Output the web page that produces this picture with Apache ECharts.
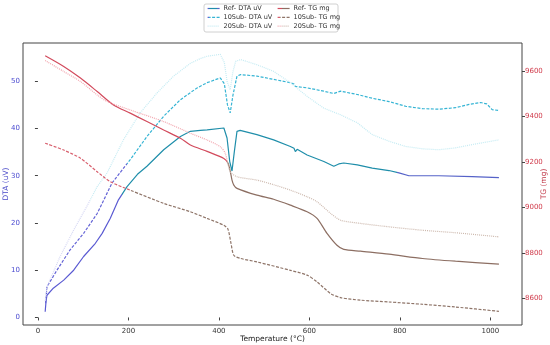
<!DOCTYPE html>
<html><head><meta charset="utf-8">
<script src="https://cdn.jsdelivr.net/npm/echarts@6/dist/echarts.min.js"></script>
<style>html,body{margin:0;padding:0;background:#fff}#c{width:550px;height:345px}</style>
</head><body><div id="c"></div>
<script>
var xTicks = [0, 200, 400, 600, 800, 1000];
var dtaTicks = [0, 10, 20, 30, 40, 50];
var tgTicks = [8600, 8800, 9000, 9200, 9400, 9600];

var refDtaT = [16, 18, 20, 34, 57, 79, 101, 127, 142, 160, 178, 197, 220, 241, 278, 315, 337, 359, 374, 411, 418, 424, 429, 434, 440, 447, 484, 521, 558, 566, 569, 573, 595, 632, 654, 665, 676, 706, 739, 776, 798, 820, 886, 960, 1019];
var refDtaV = [1.2, 3.5, 4.7, 6.2, 7.9, 10, 12.9, 15.7, 17.8, 21, 24.9, 27.7, 30.3, 32, 35.5, 38.3, 39.4, 39.6, 39.7, 40.1, 38, 33, 31, 35, 39.4, 39.6, 38.7, 37.6, 36.2, 35.8, 35.1, 35.6, 34.4, 33, 32, 32.5, 32.7, 32.3, 31.6, 31.1, 30.6, 30, 30, 29.8, 29.6];

var sub10DtaT = [17, 20, 42, 71, 101, 131, 164, 204, 241, 278, 315, 352, 374, 403, 412, 419, 425, 431, 440, 448, 484, 521, 558, 566, 569, 573, 595, 632, 654, 669, 706, 739, 776, 813, 850, 886, 923, 953, 979, 992, 1004, 1019];
var sub10DtaV = [3.0, 6.5, 10, 14.3, 17.8, 22, 28.5, 33.4, 38.3, 42.6, 46.1, 48.6, 49.7, 50.7, 49.5, 45, 43.3, 47, 51.1, 51.4, 51.1, 50.4, 49.7, 49.4, 48.9, 49.3, 48.6, 47.9, 47.4, 47.9, 47.2, 46.4, 45.7, 44.7, 44.2, 44.1, 44.4, 45.1, 45.5, 45.2, 44, 43.8];

var sub20DtaT = [16, 20, 49, 79, 108, 131, 153, 189, 226, 263, 300, 337, 359, 374, 403, 412, 418, 425, 431, 437, 448, 484, 521, 558, 595, 632, 669, 706, 739, 776, 813, 850, 886, 923, 960, 1019];
var sub20DtaV = [3.5, 6.5, 12.9, 18.5, 23.5, 27.7, 30.6, 37.6, 43.3, 47.5, 51.1, 53.8, 54.8, 55.3, 55.7, 54, 50, 48.2, 52, 54.2, 54.6, 53.5, 52.1, 49.7, 46.8, 44.3, 42.9, 41.2, 38.7, 37.3, 36.2, 35.7, 35.5, 35.9, 36.6, 37.6];

var refTgT = [16, 57, 94, 131, 167, 204, 241, 278, 315, 337, 374, 411, 420, 425, 429, 433, 440, 484, 521, 558, 595, 617, 639, 661, 676, 713, 776, 850, 923, 1019];
var refTgV = [9666, 9619, 9568, 9509, 9450, 9414, 9377, 9340, 9304, 9274, 9246, 9215, 9195, 9160, 9120, 9098, 9084, 9054, 9036, 9010, 8981, 8952, 8886, 8834, 8816, 8808, 8795, 8776, 8764, 8751];

var sub10TgT = [16, 57, 94, 131, 160, 204, 278, 337, 374, 411, 420, 427, 433, 448, 484, 558, 595, 617, 647, 669, 713, 776, 850, 923, 1019];
var sub10TgV = [9282, 9252, 9216, 9157, 9113, 9076, 9018, 8981, 8952, 8922, 8905, 8840, 8790, 8776, 8761, 8724, 8703, 8673, 8622, 8604, 8593, 8585, 8575, 8563, 8544];

var sub20TgT = [16, 57, 94, 131, 153, 204, 278, 337, 374, 403, 414, 425, 440, 484, 521, 558, 595, 617, 647, 669, 713, 776, 850, 923, 1019];
var sub20TgV = [9645, 9597, 9553, 9494, 9465, 9428, 9377, 9326, 9296, 9267, 9238, 9157, 9135, 9120, 9100, 9076, 9047, 9025, 8974, 8944, 8930, 8915, 8900, 8889, 8871];

var names = ['Ref- DTA uV', '10Sub- DTA uV', '20Sub- DTA uV', 'Ref- TG mg', '10Sub- TG mg', '20Sub- TG mg'];

function zip(a, b) { return a.map(function (v, i) { return [v, b[i]]; }); }

// horizontal hard-step gradient across the series' x extent; breaks given in temperature
function stepGrad(T, breaks, colors) {
  var t0 = T[0], t1 = T[T.length - 1], stops = [];
  var prev = 0;
  for (var i = 0; i < colors.length; i++) {
    var end = i < breaks.length ? (breaks[i] - t0) / (t1 - t0) : 1;
    stops.push({ offset: prev, color: colors[i] });
    stops.push({ offset: end, color: colors[i] });
    prev = end;
  }
  return new echarts.graphic.LinearGradient(0, 0, 1, 0, stops);
}

var FONT = 'DejaVu Sans';
var chart = echarts.init(document.getElementById('c'), null, { renderer: 'canvas' });

function mkSeries(name, data, yIdx, legendColor, lineColor, type, smooth) {
  return {
    name: name, type: 'line', yAxisIndex: yIdx, data: data, showSymbol: false, symbol: 'none',
    smooth: smooth, animation: false,
    lineStyle: { color: lineColor, width: 1.2, type: type },
    itemStyle: { color: legendColor }
  };
}

var numFmt = function (v) { return String(v); };
var legendText = { fontSize: 6.5, fontFamily: FONT, color: '#333', padding: [0, 0, 0, -1] };
var legendCommon = {
  top: 5, orient: 'vertical', itemGap: 1.8, itemWidth: 12, itemHeight: 7,
  textStyle: legendText, padding: 0, z: 5,
  itemStyle: { opacity: 0, borderWidth: 0 },
  lineStyle: { width: 1.2 }
};

var option = {
  animation: false,
  backgroundColor: '#fff',
  grid: { left: 23, right: 28, top: 43, bottom: 20, containLabel: false, outerBoundsMode: 'none',
    show: true, borderColor: '#444', borderWidth: 1 },
  graphic: [{
    type: 'rect', shape: { x: 204, y: 4, width: 134, height: 28, r: 2 },
    style: { fill: '#fff', stroke: '#d0d0d0', lineWidth: 1 }, z: 1
  }],
  legend: [
    Object.assign({ data: names.slice(0, 3), left: 207 }, legendCommon),
    Object.assign({ data: names.slice(3), left: 277 }, legendCommon)
  ],
  xAxis: {
    type: 'value', min: -33, max: 1070,
    name: 'Temperature (°C)', nameLocation: 'middle', nameGap: 10, nameMoveOverlap: false,
    nameTextStyle: { fontSize: 7.5, fontFamily: FONT, color: '#222' },
    axisLine: { show: false },
    axisTick: { show: true, length: 3, lineStyle: { color: '#444' }, customValues: xTicks },
    axisLabel: { fontSize: 7, fontFamily: FONT, color: '#333', margin: 3, customValues: xTicks, formatter: numFmt },
    splitLine: { show: false }
  },
  yAxis: [{
    type: 'value', min: -1.6, max: 58.1, position: 'left',
    name: 'DTA (uV)', nameLocation: 'middle', nameRotate: 90, nameGap: 13, nameMoveOverlap: false,
    nameTextStyle: { fontSize: 7.5, fontFamily: FONT, color: '#4848c8' },
    axisLine: { show: false },
    axisTick: { show: true, length: 3, lineStyle: { color: '#444' }, customValues: dtaTicks },
    axisLabel: { fontSize: 7, fontFamily: FONT, color: '#4a4ad0', margin: 3, customValues: dtaTicks, formatter: numFmt },
    splitLine: { show: false }
  }, {
    type: 'value', min: 8484, max: 9722, position: 'right',
    name: 'TG (mg)', nameLocation: 'middle', nameRotate: 90, nameGap: 18, nameMoveOverlap: false,
    nameTextStyle: { fontSize: 7.5, fontFamily: FONT, color: '#c03848' },
    axisLine: { show: false },
    axisTick: { show: true, length: 3, lineStyle: { color: '#444' }, customValues: tgTicks },
    axisLabel: { fontSize: 7, fontFamily: FONT, color: '#d03a4a', margin: 3, customValues: tgTicks, formatter: numFmt },
    splitLine: { show: false }
  }],
  series: [
    mkSeries(names[0], zip(refDtaT, refDtaV), 0, '#1f8eaa',
      stepGrad(refDtaT, [190, 790], ['#5a5ad2', '#1f8eaa', '#5562c8']), 'solid', false),
    mkSeries(names[1], zip(sub10DtaT, sub10DtaV), 0, '#35b4d4',
      stepGrad(sub10DtaT, [200], ['#6464d6', '#35b4d4']), [3, 1.5], false),
    mkSeries(names[2], zip(sub20DtaT, sub20DtaV), 0, '#bfe9f2',
      stepGrad(sub20DtaT, [120], ['#d6d8f4', '#c4ebf3']), [1, 1], false),
    mkSeries(names[3], zip(refTgT, refTgV), 1, '#d24a5c',
      stepGrad(refTgT, [420], ['#d24a5c', '#8c6e62']), 'solid', 0.25),
    mkSeries(names[4], zip(sub10TgT, sub10TgV), 1, '#d8606e',
      stepGrad(sub10TgT, [210], ['#d8606e', '#8e7468']), [3, 1.5], 0.25),
    mkSeries(names[5], zip(sub20TgT, sub20TgV), 1, '#f2a4ad',
      stepGrad(sub20TgT, [420], ['#f2a4ad', '#cdb9ae']), [1, 1], 0.25)
  ]
};
chart.setOption(option);
</script>
</body></html>
